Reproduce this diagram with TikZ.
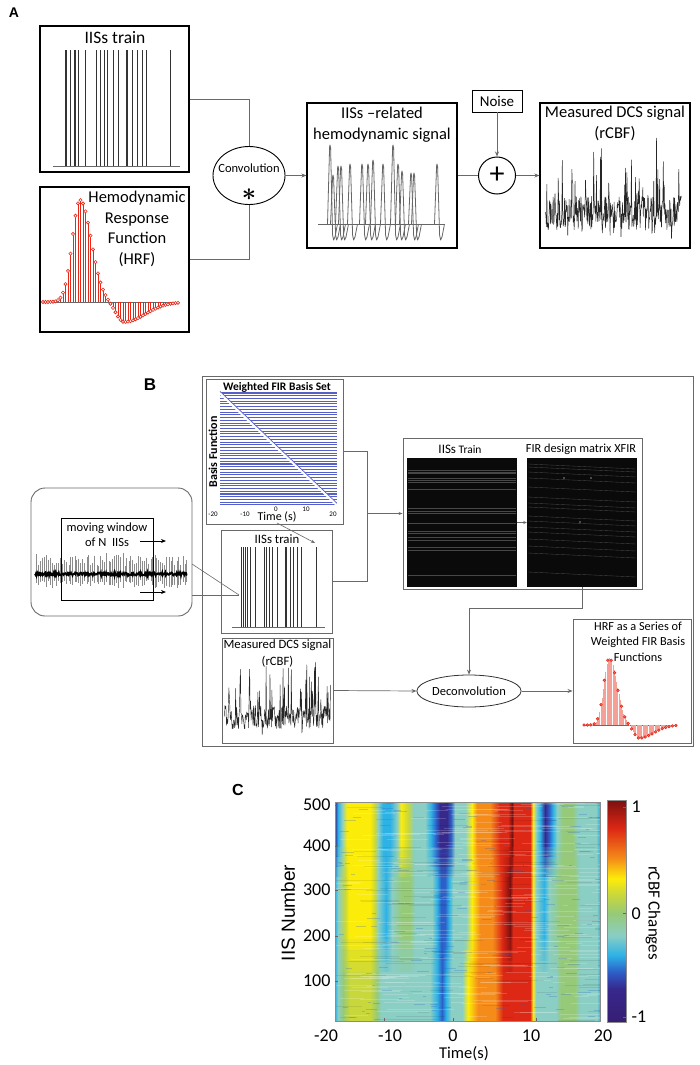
\documentclass[tikz,border=0pt]{standalone}
\usepackage{fontspec}
\setmainfont{Carlito}
\newfontfamily\arialf{Liberation Sans}
\usetikzlibrary{arrows.meta,shapes.geometric}
\newcommand{\fsz}[2]{\fontsize{#1}{#2}\selectfont}
\definecolor{cTeal}{RGB}{138,206,196}
\definecolor{cCyan}{RGB}{45,178,230}
\definecolor{cBlue}{RGB}{45,95,200}
\definecolor{cDBlue}{RGB}{55,40,140}
\definecolor{cPurple}{RGB}{55,30,115}
\definecolor{cGreen}{RGB}{150,202,120}
\definecolor{cYG}{RGB}{200,215,60}
\definecolor{cYel}{RGB}{252,236,10}
\definecolor{cOra}{RGB}{245,140,25}
\definecolor{cRed}{RGB}{220,40,20}
\definecolor{cDRed}{RGB}{125,15,15}
\definecolor{firblue}{RGB}{85,95,200}
\definecolor{hrfred}{RGB}{230,40,25}
\definecolor{hrfpink}{RGB}{245,160,150}
\definecolor{lineg}{RGB}{105,105,105}

\pgfdeclarehorizontalshading{heatTop}{100bp}{color(0bp)=(cDBlue); color(25bp)=(cDBlue); color(25.57bp)=(cCyan); color(26.32bp)=(cTeal); color(27.26bp)=(cYel); color(31.6bp)=(cYel); color(32.55bp)=(cYG); color(33.11bp)=(cTeal); color(34.06bp)=(cCyan); color(35.38bp)=(cCyan); color(36.7bp)=(cTeal); color(37.45bp)=(cYel); color(38.77bp)=(cYG); color(39.91bp)=(cTeal); color(41.98bp)=(cTeal); color(43.11bp)=(cCyan); color(44.06bp)=(cBlue); color(44.81bp)=(cDBlue); color(46.13bp)=(cDBlue); color(46.89bp)=(cBlue); color(47.64bp)=(cTeal); color(49.53bp)=(cTeal); color(50.85bp)=(cYel); color(51.79bp)=(cOra); color(54.25bp)=(cOra); color(56.13bp)=(cRed); color(57.64bp)=(cRed); color(58.4bp)=(cDRed); color(58.77bp)=(cRed); color(61.79bp)=(cRed); color(62.36bp)=(cYel); color(62.92bp)=(cTeal); color(63.68bp)=(cCyan); color(64.62bp)=(cDBlue); color(65.38bp)=(cBlue); color(66.13bp)=(cCyan); color(66.89bp)=(cTeal); color(68.02bp)=(cGreen); color(69.72bp)=(cGreen); color(70.85bp)=(cTeal); color(74.25bp)=(cTeal); color(75bp)=(cCyan); color(100bp)=(cCyan)}

\pgfdeclarehorizontalshading{heatMid}{100bp}{color(0bp)=(cCyan); color(25bp)=(cCyan); color(25.57bp)=(cTeal); color(26.89bp)=(cYG); color(27.64bp)=(cYel); color(31.6bp)=(cYel); color(32.55bp)=(cYG); color(33.11bp)=(cTeal); color(34.62bp)=(cCyan); color(35.75bp)=(cTeal); color(37.64bp)=(cGreen); color(39.15bp)=(cGreen); color(40.09bp)=(cTeal); color(43.3bp)=(cTeal); color(44.25bp)=(cCyan); color(45bp)=(cBlue); color(45.75bp)=(cBlue); color(46.51bp)=(cCyan); color(47.26bp)=(cTeal); color(49.72bp)=(cTeal); color(50.85bp)=(cYel); color(52.36bp)=(cOra); color(54.62bp)=(cOra); color(56.51bp)=(cRed); color(58.02bp)=(cDRed); color(58.58bp)=(cRed); color(61.79bp)=(cRed); color(62.36bp)=(cYel); color(62.92bp)=(cTeal); color(64.43bp)=(cCyan); color(65.38bp)=(cTeal); color(67.45bp)=(cGreen); color(70.28bp)=(cGreen); color(71.23bp)=(cTeal); color(74.43bp)=(cTeal); color(75bp)=(cCyan); color(100bp)=(cCyan)}

\pgfdeclarehorizontalshading{heatBot}{100bp}{color(0bp)=(cCyan); color(25bp)=(cCyan); color(25.57bp)=(cTeal); color(26.51bp)=(cGreen); color(27.83bp)=(cYG); color(31.6bp)=(cYG); color(32.92bp)=(cGreen); color(33.68bp)=(cTeal); color(42.92bp)=(cTeal); color(44.25bp)=(cCyan); color(45.19bp)=(cBlue); color(45.94bp)=(cCyan); color(46.89bp)=(cTeal); color(48.96bp)=(cTeal); color(50.09bp)=(cYel); color(51.98bp)=(cOra); color(55.19bp)=(cOra); color(56.7bp)=(cRed); color(58.4bp)=(cRed); color(61.79bp)=(cRed); color(62.36bp)=(cYel); color(62.92bp)=(cTeal); color(66.7bp)=(cTeal); color(67.64bp)=(cGreen); color(70.28bp)=(cGreen); color(71.23bp)=(cTeal); color(74.43bp)=(cTeal); color(75bp)=(cCyan); color(100bp)=(cCyan)}

\pgfdeclareverticalshading{cbarsh}{100bp}{color(0bp)=(cPurple); color(25bp)=(cPurple); color(32.5bp)=(cDBlue); color(36.3bp)=(cBlue); color(40bp)=(cCyan); color(44.5bp)=(cTeal); color(49.4bp)=(cGreen); color(53.6bp)=(cYG); color(57.3bp)=(cYel); color(61.8bp)=(cOra); color(68.6bp)=(cRed); color(75bp)=(cDRed); color(100bp)=(cDRed)}

\begin{document}
\begin{tikzpicture}[x=1pt,y=-1pt,
  boxA/.style={draw=black, line width=1.1pt, inner sep=0pt},
  boxB/.style={draw=lineg, line width=0.9pt, inner sep=0pt},
  conn/.style={draw=lineg, line width=0.8pt},
  arr/.style={conn, -{Stealth[length=5pt,width=4pt]}},
  sigline/.style={draw=black!85, line width=0.5pt, line join=round},
  hemo/.style={draw=black!60, line width=0.8pt, line join=round},
  spk/.style={draw=black!80, line width=0.8pt},
  lbl/.style={font=\arialf\bfseries},
  declare function={hrfn(\u)=exp(-1*(((\u-37)/(11+5*(\u>37)))^2))-0.196*exp(-1*(((\u-81)/(11+19*(\u>81)))^2));}
]
\useasboundingbox (0,0) rectangle (699,1065);
\fill[white] (0,0) rectangle (699,1065);

%================ PANEL A =================
\node[lbl, font=\arialf\bfseries\fsz{14}{14}] (labA) at (14,13) {A};

% IISs train
\node[boxA, minimum width=149pt, minimum height=146pt] (trainA) at (114.5,99) {};
\node[font=\fsz{17.5}{20}] (trainAt) at (115,38) {IISs train};
\draw[lineg, line width=0.6pt] (53,166) -- (180,166);
\foreach \x in {65.7,66.7,70,74,75.3,78.3,85,96.7,100,104.3,107.3,113.3,118.3,126,127.3,132.7,137.3,142.7,146,170.3}
  \draw[spk] (\x,166) -- (\x,50);

% HRF
\node[boxA, minimum width=149pt, minimum height=145pt] (hrfA) at (114.5,259.5) {};
\draw[lineg, line width=0.6pt] (43,302) -- (180,302);
\foreach \k in {0,...,54}{
  \pgfmathsetmacro\xx{43+2.5*\k}
  \pgfmathsetmacro\yy{302-102*hrfn(2.5*\k)}
  \draw[hrfred, line width=0.5pt] (\xx,302) -- (\xx,\yy);
}
\foreach \k in {0,...,54}{
  \pgfmathsetmacro\xx{43+2.5*\k}
  \pgfmathsetmacro\yy{302-102*hrfn(2.5*\k)}
  \draw[hrfred, line width=0.6pt, fill=white] (\xx,\yy) circle[radius=1.6];
}
\node[align=center, font=\fsz{16.5}{20.4}] (hrfAt) at (137,229) {Hemodynamic\\Response\\Function\\(HRF)};

% convolution
\node[draw=black, line width=0.9pt, ellipse, minimum width=72pt, minimum height=58pt, inner sep=0pt] (conv) at (249,175.5) {};
\node[font=\fsz{12.5}{14}, inner sep=0pt] (convt) at (249,168.5) {Convolution};
\node[font=\boldmath\fsz{32}{32}, inner sep=0pt] (star) at (249,195) {$\ast$};
\draw[conn] (trainA.east) -| (conv.north);
\draw[conn] (hrfA.east) -| (conv.south);

% hemodynamic signal
\node[boxA, minimum width=150pt, minimum height=145pt] (hemoA) at (382,175.5) {};
\node[align=center, font=\fsz{16.5}{21}] (hemoAt) at (382,124.5) {IISs –related\\hemodynamic signal};
\draw[arr] (conv.east) -- (hemoA.west);
\draw[hemo] (318,224) -- (445,224);
\foreach \x/\p in {330/145,333/175,338/166,341/166,350/164,362/164,368/164,373/160,383/164,393/145,398/164,402/171,411/173,414/173,437/164}
  \draw[hemo] (\x-2.5,224) -- (\x-0.4,\p+2) -- (\x,\p) -- (\x+0.6,\p+3) -- (\x+2.6,235) -- (\x+3.6,240) -- (\x+5,237) -- (\x+7.5,224);

% plus and noise
\node[draw=black, line width=1pt, circle, minimum size=37pt, inner sep=0pt, font=\fsz{30}{30}] (plus) at (497,175.5) {+};
\node[boxA, line width=0.9pt, minimum width=50pt, minimum height=22pt, font=\fsz{15}{15}] (noise) at (497,101) {Noise};
\draw[arr] (noise.south) -- (plus.north);
\draw[conn] (hemoA.east) -- (plus.west);

% measured DCS signal
\node[boxA, minimum width=150pt, minimum height=145pt] (measA) at (615,175.5) {};
\node[align=center, font=\fsz{16.5}{21}] (measAt) at (615,123.5) {Measured DCS signal\\(rCBF)};
\draw[arr] (plus.east) -- (measA.west);
\pgfmathsetseed{7}
\draw[sigline] (545,212) \foreach \i in {1,...,300} { -- ({545+0.455*\i},{213+17*rand-(rnd>0.86)*(18+45*rnd)+(rnd>0.9)*12*rnd}) };

%================ PANEL B =================
\node[lbl, font=\arialf\bfseries\fsz{17}{17}] (labB) at (150,385) {B};
\node[boxB, minimum width=491pt, minimum height=370pt] (outerB) at (447.5,561) {};

% FIR basis set
\node[boxB, minimum width=137pt, minimum height=145pt] (fir) at (274.5,451.5) {};
\foreach \k in {0,...,41}
  \draw[firblue, line width=1.05pt] (220,{393+2.73*\k}) -- (337,{393+2.73*\k});
\draw[white, line width=2.6pt] (220,393) -- (337,505);
\draw[firblue, line width=0.7pt] (220,391.3) -- (337,503.3);
\node[font=\bfseries\fsz{11.5}{12}] (firt) at (277,387) {Weighted FIR Basis Set};
\node[font=\bfseries\fsz{12}{12}, rotate=90] (firy) at (213,452) {Basis Function};
\node[font=\fsz{7}{7}] (ft1) at (213,514) {-20};
\node[font=\fsz{7}{7}] (ft2) at (245,514) {-10};
\node[font=\fsz{7}{7}] (ft3) at (276,509) {0};
\node[font=\fsz{7}{7}] (ft4) at (306,509) {10};
\node[font=\fsz{7}{7}] (ft5) at (333,514) {20};
\node[font=\fsz{12}{12}] (firx) at (277,517) {Time (s)};

% IISs train B
\node[boxB, minimum width=111pt, minimum height=103pt] (trainB) at (276.5,581.5) {};
\node[font=\fsz{12.8}{13}] (trainBt) at (277,539) {IISs train};
\draw[lineg, line width=0.6pt] (232,627) -- (325,627);
\foreach \x in {241.7,243.3,245,247.3,250.7,255.3,264.3,266.7,269.3,272.7,277.7,285.3,286.7,290,293.3,297.7,301.7,316.7}
  \draw[spk] (\x,627) -- (\x,547);
\coordinate (ta) at (277,523);
\coordinate (tb) at (315,543);
\draw[conn, line width=0.6pt, -{Stealth[length=4pt,width=3pt]}] (ta) -- (tb);

% moving window
\node[boxB, rounded corners=14pt, minimum width=161pt, minimum height=128pt] (winbox) at (111.5,552) {};
\pgfmathsetseed{11}
\foreach \i in {0,...,75}{
  \pgfmathsetmacro\xs{36+2*\i+rnd}
  \pgfmathsetmacro\yt{566-13*rnd}
  \pgfmathsetmacro\yb{580+8*rnd}
  \draw[black!45, line width=0.5pt] (\xs,\yt) -- (\xs,\yb);
}
\draw[black, line width=1.8pt] (35,574) \foreach \i in {1,...,300} { -- ({35+0.507*\i},{574+1.5*rand}) };
\node[draw=black, line width=1pt, minimum width=92pt, minimum height=82pt, inner sep=0pt] (winrect) at (107,559) {};
\node[align=center, font=\fsz{12.5}{15}] (wint) at (107,534.5) {moving window\\of N\ \ IISs};
\coordinate (wa1) at (140,541); \coordinate (wa2) at (166,541);
\coordinate (wb1) at (140,592); \coordinate (wb2) at (166,592);
\draw[black, line width=0.8pt, -{Stealth[length=5pt,width=4pt]}] (wa1) -- (wa2);
\draw[black, line width=0.8pt, -{Stealth[length=5pt,width=4pt]}] (wb1) -- (wb2);
\coordinate (w1) at (192,564); \coordinate (w2) at (192,595); \coordinate (wtip) at (239,595);
\draw[conn, line width=0.6pt] (w1) -- (wtip);
\draw[conn, line width=0.6pt] (w2) -- (wtip);

% matrix
\node[boxB, minimum width=239pt, minimum height=151pt] (mat) at (522.5,513.5) {};
\node[font=\fsz{13}{13}] (matt1) at (460,449) {IISs{\fsz{11.5}{12} Train}};
\node[font=\fsz{12.3}{13}] (matt2) at (581,449) {FIR design matrix XFIR};
\node[fill=black!96, minimum width=110pt, minimum height=129pt, inner sep=0pt] (p1) at (462,522.5) {};
\node[fill=black!96, minimum width=110pt, minimum height=129pt, inner sep=0pt] (p2) at (582,522.5) {};
\foreach \y in {470,471.7,473.3,478.3,480,481.7,489.3,507.7,510.7,513.3,522.7,531,533.3,536.7,540,547.3,550,575}
  \draw[black!72, line width=0.4pt] (408,\y) -- (516,\y);
\foreach \y in {464,467,472,478,487,497,503,507,516,521,527,532,539,546,553,572}
  \draw[black!72, line width=0.35pt] (528,\y) -- (636,\y+5);
\fill[black!45] (564,478) circle[radius=0.8] (591,478) circle[radius=0.8] (580,522) circle[radius=0.8];
\coordinate (jn) at (367,513.5);
\draw[conn] (fir.east) -| (jn);
\draw[conn] (trainB.east) -| (jn);
\draw[arr, line width=0.7pt, -{Stealth[length=4pt,width=3pt]}] (jn) -- (mat.west);
\draw[arr, line width=0.6pt, -{Stealth[length=3.5pt,width=3pt]}] (p1.east) -- (p2.west);

% measured DCS B
\node[boxB, minimum width=111pt, minimum height=105pt] (dcsB) at (277.5,690.5) {};
\node[align=center, font=\fsz{12.7}{17}] (dcsBt) at (277.5,653.5) {Measured DCS signal\\(rCBF)};
\pgfmathsetseed{23}
\draw[sigline, line width=0.45pt] (224,716) \foreach \i in {1,...,220} { -- ({224+0.484*\i},{717+12*rand-(rnd>0.86)*(14+36*rnd)+(rnd>0.9)*11*rnd}) };

% deconvolution
\node[draw=black!80, line width=0.8pt, ellipse, minimum width=94pt, minimum height=32pt, inner sep=0pt, font=\fsz{12.5}{13}] (deconv) at (469,691) {Deconvolution};
\draw[arr, line width=0.7pt] (p2.south) -- ++(0,21) -| (deconv.north);
\draw[arr, line width=0.7pt] (dcsB.east) -- (deconv.west);

% HRF B
\node[boxB, minimum width=118pt, minimum height=124pt] (hrfB) at (632,681) {};
\draw[arr, line width=0.7pt] (deconv.east) -- (deconv.east -| hrfB.west);
\node[align=center, font=\fsz{12.3}{15.5}] (hrfBt) at (638,641.5) {HRF as a Series of\\Weighted FIR Basis\\Functions};
\draw[lineg, line width=0.5pt] (584,725) -- (677,725);
\foreach \k in {0,...,77}{
  \pgfmathsetmacro\xx{584+1.2*\k}
  \pgfmathsetmacro\yy{725-67*hrfn(1.2*\k/0.68)}
  \draw[hrfpink, line width=0.45pt] (\xx,725) -- (\xx,\yy);
}
\foreach \k in {0,...,27}{
  \pgfmathsetmacro\xx{584+3.4*\k}
  \pgfmathsetmacro\yy{725-67*hrfn(3.4*\k/0.68)}
  \draw[hrfred, line width=0.6pt, fill=hrfred!60] (\xx,\yy) circle[radius=1.3];
}

%================ PANEL C =================
\node[lbl, font=\arialf\bfseries\fsz{16}{16}] (labC) at (238,790) {C};
\shade[shading=heatMid] (335,802) rectangle (600,1021);
\shade[shading=heatTop] (335,802) rectangle (600,846);
\shade[shading=heatTop, opacity=0.75] (335,846) rectangle (600,856);
\shade[shading=heatTop, opacity=0.5] (335,856) rectangle (600,866);
\shade[shading=heatTop, opacity=0.25] (335,866) rectangle (600,876);
\shade[shading=heatBot] (335,972) rectangle (600,1021);
\shade[shading=heatBot, opacity=0.75] (335,961) rectangle (600,972);
\shade[shading=heatBot, opacity=0.5] (335,950) rectangle (600,961);
\shade[shading=heatBot, opacity=0.25] (335,939) rectangle (600,950);
\begin{scope}
\clip (335,802) rectangle (600,1021);
\pgfmathsetseed{5}
\foreach \i in {1,...,260}{
  \pgfmathsetmacro\sy{803+218*rnd}
  \pgfmathsetmacro\sx{330+270*rnd}
  \pgfmathsetmacro\sl{10+60*rnd}
  \draw[white, opacity=0.18, line width=0.7pt] (\sx,\sy) -- ++(\sl,0);
}
\foreach \i in {1,...,150}{
  \pgfmathsetmacro\sy{803+218*rnd}
  \pgfmathsetmacro\sx{335+265*rnd}
  \pgfmathsetmacro\sl{3+10*rnd}
  \draw[cBlue, opacity=0.25, line width=0.8pt] (\sx,\sy) -- ++(\sl,0);
}
\foreach \i in {1,...,110}{
  \pgfmathsetmacro\sy{803+218*rnd}
  \pgfmathsetmacro\sx{330+270*rnd}
  \pgfmathsetmacro\sl{10+50*rnd}
  \draw[black, opacity=0.08, line width=0.8pt] (\sx,\sy) -- ++(\sl,0);
}
\end{scope}
\draw[black!45, line width=0.6pt] (335,802) rectangle (600,1021);
\foreach \y in {805,846,890,936,981}
  \draw[black!60, line width=0.6pt] (335,\y) -- (338,\y);
\foreach \x in {384,453,536}
  \draw[black!60, line width=0.6pt] (\x,1021) -- (\x,1018);
\node[font=\fsz{18}{18}, anchor=east] (y500) at (334,805) {500};
\node[font=\fsz{18}{18}, anchor=east] (y400) at (334,846) {400};
\node[font=\fsz{18}{18}, anchor=east] (y300) at (334,890) {300};
\node[font=\fsz{18}{18}, anchor=east] (y200) at (334,936) {200};
\node[font=\fsz{18}{18}, anchor=east] (y100) at (334,981) {100};
\node[font=\fsz{18}{18}, inner sep=1pt] (x1) at (326,1036) {-20};
\node[font=\fsz{18}{18}, inner sep=1pt] (x2) at (390,1036) {-10};
\node[font=\fsz{18}{18}, inner sep=1pt] (x3) at (453,1036) {0};
\node[font=\fsz{18}{18}, inner sep=1pt] (x4) at (531,1036) {10};
\node[font=\fsz{18}{18}, inner sep=1pt] (x5) at (603,1036) {20};
\node[font=\fsz{16.5}{17}, inner sep=1pt] (xlab) at (464,1054) {Time(s)};
\node[font=\arialf\fsz{19}{19}, rotate=90] (ylab) at (288,913) {IIS Number};
% colorbar
\shade[shading=cbarsh] (607,800) rectangle (626,1022);
\draw[black!45, line width=0.6pt] (607,800) rectangle (626,1022);
\foreach \y in {807,913,1017}
  \draw[black!60, line width=0.6pt] (623,\y) -- (626,\y);
\node[font=\fsz{18}{18}, anchor=west] (c1) at (628,807) {1};
\node[font=\fsz{18}{18}, anchor=west] (c0) at (628,914) {0};
\node[font=\fsz{18}{18}, anchor=west] (cm1) at (628,1017) {-1};
\node[font=\fsz{17}{17}, rotate=-90] (cbl) at (653,913) {rCBF Changes};
\end{tikzpicture}
\end{document}
